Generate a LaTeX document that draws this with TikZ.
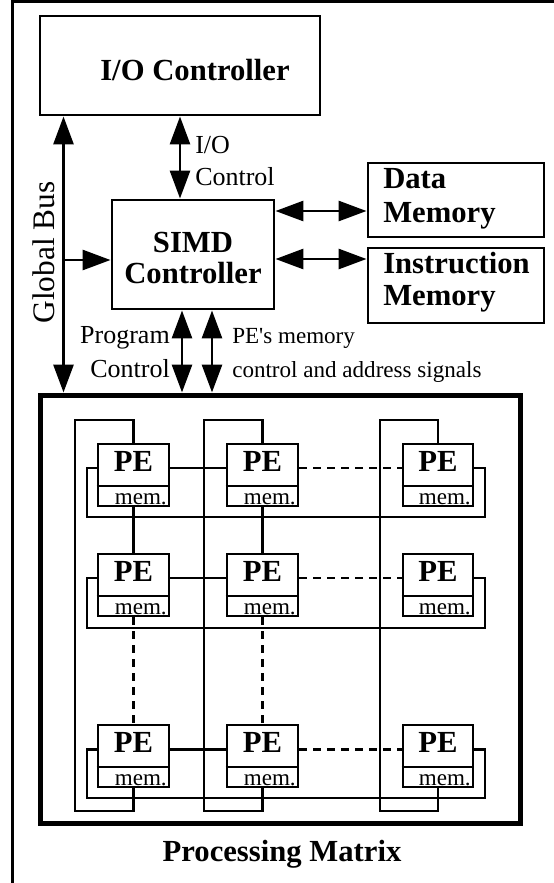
\documentclass[tikz,border=0pt]{standalone}
\usepackage{fontspec}
\setmainfont{Liberation Serif}
\usetikzlibrary{arrows.meta,fit}
\newcommand\bigbf{\fontsize{23}{24}\selectfont\bfseries}
\newcommand\labfont{\fontsize{19.5}{20}\selectfont}
\newcommand\smfont{\fontsize{17.3}{18}\selectfont}
\begin{document}
\begin{tikzpicture}[x=0.75pt,y=-0.75pt,
  box/.style={draw, line width=2.2pt, inner sep=0pt},
  matbox/.style={draw, line width=3.75pt, inner sep=0pt},
  pebox/.style={draw, line width=2.2pt, inner sep=0pt},
  peline/.style={line width=2.2pt},
  wire/.style={line width=1.7pt},
  dwire/.style={line width=1.7pt, dash pattern=on 6pt off 4.5pt},
  tip/.tip={Triangle[length=21pt,width=15pt]},
  arr/.style={line width=2.2pt, -tip},
  darr/.style={line width=2.2pt, tip-tip},
  bigtext/.style={inner sep=0pt, font=\bigbf},
  labtext/.style={inner sep=0pt, font=\labfont},
  smtext/.style={inner sep=0pt, font=\smfont},
  petext/.style={inner sep=0pt, font=\bigbf},
  memtext/.style={inner sep=0pt, font=\smfont}]
\useasboundingbox (0,0) rectangle (554,883);
% outer frame (left and top only)
\draw[line width=2.25pt, line join=miter] (12.5,890) -- (12.5,1.5) -- (560,1.5);

% main boxes
\node[box, fit={(40,16) (320,115)}] (io) {};
\node[bigtext, anchor=base] (iot) at (195,80) {I/O Controller};
\node[box, fit={(112,200) (274,309)}] (simd) {};
\node[bigtext, anchor=base] (simdt1) at (193,252) {SIMD};
\node[bigtext, anchor=base] (simdt2) at (193,283) {Controller};
\node[box, fit={(368,163) (544,237)}] (data) {};
\node[bigtext, anchor=base west] (datat1) at (383,188) {Data};
\node[bigtext, anchor=base west] (datat2) at (383,222) {Memory};
\node[box, fit={(368,248) (544,323)}] (instr) {};
\node[bigtext, anchor=base west] (instrt1) at (383,273) {Instruction};
\node[bigtext, anchor=base west] (instrt2) at (383,305) {Memory};
\node[matbox, fit={(40,395) (520,823)}] (mat) {};
\node[bigtext, anchor=base] (matt) at (282,861) {Processing Matrix};

% connectors
\coordinate (gbx) at (63.5,0);
\coordinate (gbj) at (63.5,260);
\coordinate (pcx) at (182,0);
\coordinate (pmx) at (212,0);
\coordinate (dy) at (0,211);
\coordinate (iy) at (0,259);
\draw[darr] (io.south) -- (io.south |- simd.north);
\draw[darr] (io.south -| gbx) -- (mat.north -| gbx);
\draw[arr] (gbj) -- (gbj -| simd.west);
\draw[darr] (simd.east |- dy) -- (data.west |- dy);
\draw[darr] (simd.east |- iy) -- (instr.west |- iy);
\draw[darr] (simd.south -| pcx) -- (mat.north -| pcx);
\draw[darr] (simd.south -| pmx) -- (mat.north -| pmx);

% connector labels
\node[labtext, anchor=base west] (iol1) at (195,153) {I/O};
\node[labtext, anchor=base west] (iol2) at (195,185) {Control};
\node[labtext, anchor=base east] (pcl1) at (170,343) {Program};
\node[labtext, anchor=base east] (pcl2) at (170,377) {Control};
\node[smtext, anchor=base west] (pml1) at (232,343) {PE\textquotesingle s memory};
\node[smtext, anchor=base west] (pml2) at (232,377) {control and address signals};
\node[font=\fontsize{23.5}{24}\selectfont, inner sep=0pt, rotate=90, anchor=base] (gbl) at (55,252.5) {Global Bus};

% PE cells
\newcommand\mkpe[4]{%
  \node[pebox, fit={(#2,#4) (#3,#4+62)}] (#1) {};
  \draw[peline] (#1.west |- 0,#4+42) -- (#1.east |- 0,#4+42);
  \node[petext, anchor=base] (#1t) at ({(#2+#3)/2},#4+27) {PE};
  \node[memtext, anchor=base east] (#1m) at (#3-2,#4+60) {mem.};
}
\mkpe{pe11}{98}{169}{444}
\mkpe{pe12}{227}{298}{444}
\mkpe{pe13}{403}{473}{444}
\mkpe{pe21}{98}{169}{554}
\mkpe{pe22}{227}{298}{554}
\mkpe{pe23}{403}{473}{554}
\mkpe{pe31}{98}{169}{725}
\mkpe{pe32}{227}{298}{725}
\mkpe{pe33}{403}{473}{725}

% column routing
\draw[wire] (pe11.north) |- (75,420) -- (75,811) -| (pe31.south);
\draw[wire] (pe12.north) |- (204,420) -- (204,811) -| (pe32.south);
\draw[wire] (pe13.north) |- (380,420) -- (380,811) -| (pe33.south);
\draw[wire] (pe11.south) -- (pe21.north);
\draw[wire] (pe12.south) -- (pe22.north);
\draw[dwire] (pe21.south) -- (pe31.north);
\draw[dwire] (pe22.south) -- (pe32.north);

% row routing
\foreach \r/\c/\b in {1/468/517, 2/578/628, 3/749.5/798}{
  \draw[wire] (pe\r1.east |- 0,\c) -- (pe\r2.west |- 0,\c);
  \draw[dwire] (pe\r2.east |- 0,\c) -- (pe\r3.west |- 0,\c);
  \draw[wire] (pe\r1.west |- 0,\c) -- (87,\c) -- (87,\b) -- (485,\b) -- (485,\c) -- (pe\r3.east |- 0,\c);
}
\end{tikzpicture}
\end{document}
